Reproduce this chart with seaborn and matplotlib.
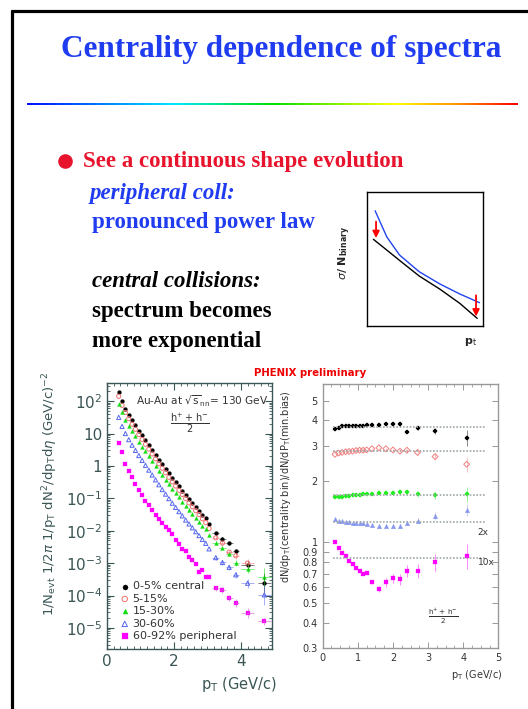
import numpy as np
import matplotlib
matplotlib.use("Agg")
import matplotlib.pyplot as plt
import seaborn as sns
from matplotlib.lines import Line2D
from matplotlib.colors import LinearSegmentedColormap
from matplotlib.ticker import MultipleLocator, LogLocator, NullFormatter

# ---- left panel: invariant yields, log10 values ----
pt_left = [0.35, 0.45, 0.55, 0.65, 0.75, 0.85, 0.95, 1.05, 1.15, 1.25, 1.35, 1.45,
           1.55, 1.65, 1.75, 1.85, 1.95, 2.05, 2.15, 2.25, 2.35, 2.45, 2.55, 2.65,
           2.75, 2.85, 2.95, 3.05, 3.25, 3.45, 3.65, 3.85, 4.2, 4.7]
log_c0_5 = [2.27, 1.99, 1.77, 1.58, 1.41, 1.25, 1.09, 0.94, 0.79, 0.64, 0.49, 0.34,
            0.19, 0.05, -0.09, -0.23, -0.37, -0.50, -0.63, -0.76, -0.89, -1.02, -1.14, -1.26,
            -1.38, -1.50, -1.62, -1.78, -2.08, -2.24, -2.39, -2.64, -3.05, -3.60]
log_c5_15 = [2.15, 1.87, 1.65, 1.46, 1.29, 1.13, 0.97, 0.82, 0.67, 0.52, 0.37, 0.22,
             0.07, -0.07, -0.21, -0.35, -0.49, -0.62, -0.75, -0.88, -1.01, -1.14, -1.26, -1.38,
             -1.50, -1.63, -1.75, -1.93, -2.22, -2.38, -2.66, -2.77, -3.00, np.nan]
log_c15_30 = [1.92, 1.65, 1.43, 1.24, 1.07, 0.91, 0.75, 0.60, 0.45, 0.30, 0.15, 0.00,
              -0.15, -0.29, -0.43, -0.57, -0.71, -0.84, -0.97, -1.10, -1.23, -1.36, -1.48, -1.60,
              -1.72, -1.84, -1.96, -2.13, -2.38, -2.52, -2.72, -3.00, -3.19, -3.44]
log_c30_60 = [1.50, 1.22, 1.00, 0.81, 0.64, 0.48, 0.32, 0.17, 0.02, -0.13, -0.28, -0.43,
              -0.58, -0.73, -0.87, -1.01, -1.15, -1.28, -1.41, -1.54, -1.67, -1.79, -1.91, -2.03,
              -2.15, -2.27, -2.39, -2.56, -2.83, -2.98, -3.13, -3.36, -3.62, -3.98]
log_c60_92 = [0.72, 0.42, 0.05, -0.16, -0.35, -0.55, -0.73, -0.90, -1.07, -1.22, -1.36, -1.50,
              -1.63, -1.76, -1.88, -1.98, -2.10, -2.30, -2.40, -2.57, -2.61, -2.80, -2.90, -3.02,
              -3.28, -3.22, -3.42, -3.44, -3.78, -3.84, -4.08, -4.22, -4.53, -4.80]
# errors on the last six points (x in GeV/c, y in decades)
tail_xerr = [0.1, 0.1, 0.1, 0.1, 0.2, 0.2]
tail_err = {
    "0-5% central": [0.04, 0.05, 0.06, 0.08, 0.12, 0.30],
    "5-15%": [0.05, 0.06, 0.07, 0.09, 0.14, np.nan],
    "15-30%": [0.05, 0.06, 0.07, 0.09, 0.12, 0.30],
    "30-60%": [0.06, 0.07, 0.08, 0.10, 0.14, 0.30],
    "60-92% peripheral": [0.08, 0.09, 0.10, 0.12, 0.15, 0.10],
}

# ---- right panel: ratio to minimum bias ----
pt_ratio = [0.35, 0.45, 0.55, 0.65, 0.75, 0.85, 0.95, 1.05, 1.15, 1.25,
            1.4, 1.6, 1.8, 2.0, 2.2, 2.4, 2.7, 3.2, 4.1]
ratio_c0_5 = [3.63, 3.68, 3.74, 3.76, 3.76, 3.75, 3.75, 3.75, 3.76, 3.78,
              3.78, 3.80, 3.86, 3.82, 3.82, 3.52, 3.67, 3.55, 3.28]
ratio_c5_15 = [2.72, 2.76, 2.78, 2.80, 2.81, 2.82, 2.84, 2.85, 2.85, 2.86,
               2.90, 2.93, 2.90, 2.86, 2.82, 2.85, 2.78, 2.65, 2.43]
ratio_c15_30 = [1.68, 1.68, 1.68, 1.69, 1.70, 1.71, 1.71, 1.72, 1.73, 1.73,
                1.73, 1.75, 1.75, 1.76, 1.78, 1.78, 1.73, 1.71, 1.73]
ratio_c30_60_x2 = [1.30, 1.28, 1.27, 1.26, 1.26, 1.25, 1.25, 1.24, 1.24, 1.23,
                   1.22, 1.20, 1.20, 1.20, 1.21, 1.25, 1.28, 1.35, 1.45]
ratio_c60_92_x10 = [1.00, 0.94, 0.89, 0.86, 0.81, 0.78, 0.75, 0.72, 0.70, 0.705,
                    0.64, 0.59, 0.635, 0.665, 0.657, 0.725, 0.725, 0.80, 0.86]
# y errors for pT >= 1.4 (last nine points)
ratio_err = [
    [0.02, 0.03, 0.04, 0.05, 0.06, 0.07, 0.09, 0.12, 0.30],
    [0.02, 0.02, 0.03, 0.03, 0.04, 0.05, 0.07, 0.10, 0.20],
    [0.01, 0.02, 0.02, 0.03, 0.03, 0.04, 0.05, 0.07, 0.15],
    [0.01, 0.01, 0.01, 0.02, 0.02, 0.03, 0.04, 0.06, 0.10],
    [0.015, 0.02, 0.03, 0.035, 0.04, 0.05, 0.06, 0.08, 0.12],
]
ref_levels = [3.72, 2.83, 1.71, 1.265, 0.84]
ref_span = [0.3, 4.65]

# ---- sketch inset (axes fractions) ----
sketch_x_blue = [0.07, 0.17, 0.28, 0.45, 0.63, 0.80, 0.97]
sketch_y_blue = [0.860, 0.666, 0.530, 0.405, 0.313, 0.239, 0.174]
sketch_x_black = [0.055, 0.17, 0.28, 0.45, 0.63, 0.80, 0.95]
sketch_y_black = [0.647, 0.567, 0.490, 0.373, 0.274, 0.169, 0.057]

labels = ["0-5% central", "5-15%", "15-30%", "30-60%", "60-92% peripheral"]
colors = ["#000000", "#f07070", "#10dd10", "#5566ee", "#ff00ff"]
markers = ["o", "o", "^", "^", "s"]
filled = [True, False, True, False, True]

sns.set_style("ticks")
plt.rcParams["font.family"] = ["DejaVu Sans"]
plt.rcParams["mathtext.fontset"] = "dejavusans"

W, H = 528, 709
fig = plt.figure(figsize=(W / 100, H / 100), dpi=100)


def fx(px):
    return px / W


def fy(py):
    return 1 - py / H


# slide frame
fig.add_artist(Line2D([fx(11.5), fx(11.5)], [0, fy(10.5)], color="black", lw=2.3,
                      transform=fig.transFigure))
fig.add_artist(Line2D([fx(11.5), 1], [fy(10.5), fy(10.5)], color="black", lw=2.3,
                      transform=fig.transFigure))

blue_txt = "#1f3cf0"
red_txt = "#e8142d"
fig.text(fx(281), fy(56.7), "Centrality dependence of spectra", ha="center", va="baseline",
         family="Liberation Serif", weight="bold", size=22.5, color=blue_txt)

# rainbow rule
rain = LinearSegmentedColormap.from_list(
    "rain", [(0, "#0010ff"), (0.3, "#00e8ff"), (0.5, "#00e000"), (0.75, "#ffff00"),
             (0.88, "#ff9000"), (1.0, "#ff0000")])
ax_r = fig.add_axes([fx(27), fy(105.5), fx(491), 3 / H])
ax_r.imshow(np.linspace(0, 1, 256)[None, :], aspect="auto", cmap=rain)
ax_r.axis("off")

# bullet text
fig.add_artist(Line2D([fx(65.3)], [fy(160.7)], marker="o", markersize=9.5, color=red_txt,
                      transform=fig.transFigure))
serif = "Liberation Serif"
fig.text(fx(83), fy(167), "See a continuous shape evolution", family=serif, weight="bold",
         size=16.5, color=red_txt, va="baseline")
fig.text(fx(90), fy(199), "peripheral coll:", family=serif, weight="bold", style="italic",
         size=16.5, color=blue_txt, va="baseline")
fig.text(fx(92), fy(227.5), "pronounced power law", family=serif, weight="bold",
         size=16.5, color=blue_txt, va="baseline")
fig.text(fx(91.5), fy(287.5), "central collisions:", family=serif, weight="bold",
         style="italic", size=16.5, color="black", va="baseline")
fig.text(fx(92), fy(317), "spectrum becomes", family=serif, weight="bold",
         size=16.5, color="black", va="baseline")
fig.text(fx(92), fy(346.5), "more exponential", family=serif, weight="bold",
         size=16.5, color="black", va="baseline")

# sketch inset
ax_in = fig.add_axes([fx(367), fy(326), fx(116), 134 / H])
sns.lineplot(x=sketch_x_blue, y=sketch_y_blue, ax=ax_in, color="#2244ee", lw=1.0)
sns.lineplot(x=sketch_x_black, y=sketch_y_black, ax=ax_in, color="black", lw=1.0)
ax_in.annotate("", xy=(0.078, 0.635), xytext=(0.078, 0.80),
               arrowprops=dict(arrowstyle="-|>", color="red", lw=1.3, mutation_scale=10))
ax_in.annotate("", xy=(0.94, 0.05), xytext=(0.94, 0.25),
               arrowprops=dict(arrowstyle="-|>", color="red", lw=1.3, mutation_scale=10))
ax_in.set_xlim(0, 1)
ax_in.set_ylim(0, 1)
ax_in.set_xticks([])
ax_in.set_yticks([])
for s in ax_in.spines.values():
    s.set_visible(True)
    s.set_linewidth(1.0)
    s.set_color("black")
ax_in.text(-0.19, 0.545, r"$\sigma$/ $\mathbf{N}_{\mathbf{binary}}$", rotation=90,
           transform=ax_in.transAxes, ha="center", va="center", size=8, weight="bold")
ax_in.text(0.89, -0.117, r"p$_{\rm t}$", transform=ax_in.transAxes, ha="center",
           va="center", size=8, weight="bold")

fig.text(fx(310), fy(373.5), "PHENIX preliminary", ha="center", va="center",
         size=7.3, weight="bold", color="#ee0000")

# ---- left panel ----
axis_c = "#3b5555"
ax1 = fig.add_axes([fx(107), fy(649), fx(165), 266 / H])
series_left = [log_c0_5, log_c5_15, log_c15_30, log_c30_60, log_c60_92]
for lab, col, mk, fill, lv in zip(labels, colors, markers, filled, series_left):
    yv = 10 ** np.array(lv)
    err = np.array(tail_err[lab])
    tail_y = yv[-6:]
    lo = tail_y - tail_y * 10 ** (-err)
    hi = tail_y * 10 ** err - tail_y
    ax1.errorbar(pt_left[-6:], tail_y, xerr=tail_xerr, yerr=[lo, hi], fmt="none",
                 ecolor=col if col != "#ff00ff" else "#cc55cc", elinewidth=0.6, alpha=0.6)
    if fill:
        sns.scatterplot(x=pt_left, y=yv, ax=ax1, marker=mk, color=col, s=8,
                        edgecolor=col, linewidth=0.2, label=lab)
    else:
        sns.scatterplot(x=pt_left, y=yv, ax=ax1, marker=mk, color=col, s=9,
                        facecolor="none", edgecolor=col, linewidth=0.7, label=lab)
ax1.set_yscale("log")
ax1.set_xlim(0, 4.93)
ax1.set_ylim(10 ** -5.65, 10 ** 2.56)
ax1.set_xticks([0, 2, 4])
ax1.set_xticklabels(["0", "2", "4"])
ax1.xaxis.set_minor_locator(MultipleLocator(0.2))
dec = [1e-5, 1e-4, 1e-3, 1e-2, 1e-1, 1, 10, 100]
ax1.set_yticks(dec)
ax1.set_yticklabels([r"$10^{-5}$", r"$10^{-4}$", r"$10^{-3}$", r"$10^{-2}$", r"$10^{-1}$",
                     "1", "10", r"$10^{2}$"])
ax1.yaxis.set_minor_locator(LogLocator(base=10, subs=np.arange(2, 10)))
ax1.yaxis.set_minor_formatter(NullFormatter())
ax1.tick_params(which="both", direction="in", top=True, right=True, colors=axis_c,
                labelsize=11, labelcolor=axis_c)
ax1.tick_params(which="major", length=5, width=0.8)
ax1.tick_params(which="minor", length=2.5, width=0.6)
for s in ax1.spines.values():
    s.set_color(axis_c)
    s.set_linewidth(1.0)
ax1.set_ylabel(r"1/N$_{\rm evt}$ 1/2$\pi$ 1/p$_{\rm T}$ dN$^{2}$/dp$_{\rm T}$d$\eta$ (GeV/c)$^{-2}$",
               size=9.5, color=axis_c)
ax1.yaxis.set_label_coords(-0.285, 0.583)
ax1.set_xlabel(r"p$_{\rm T}$ (GeV/c)", size=10.5, color=axis_c)
ax1.xaxis.set_label_coords(0.803, -0.098)
ax1.text(0.58, 0.93, r"Au-Au at $\sqrt{\rm s}_{\rm nn}$= 130 GeV", transform=ax1.transAxes,
         ha="center", va="center", size=7.6, color="#333333")
ax1.text(0.505, 0.85, r"$\frac{\rm h^{+}+\,h^{-}}{2}$", transform=ax1.transAxes,
         ha="center", va="center", size=10, color="#333333")
ax1.legend(loc="lower left", bbox_to_anchor=(0.02, 0.0), frameon=False, fontsize=8,
           handletextpad=0.1, labelspacing=0.22, borderaxespad=0.3, handlelength=1.2,
           labelcolor="#333333", markerscale=1.3)

# ---- right panel ----
ax2 = fig.add_axes([fx(322.7), fy(648.3), fx(175.6), 264.3 / H])
for lvl in ref_levels:
    sns.lineplot(x=ref_span, y=[lvl, lvl], ax=ax2, color="#a0a8a8", lw=1.2,
                 linestyle=(0, (1, 1)))
ratio_series = [ratio_c0_5, ratio_c5_15, ratio_c15_30, ratio_c30_60_x2, ratio_c60_92_x10]
r_markers = ["P", "D", "P", "^", "s"]
r_colors = ["#000000", "#f08080", "#22ee22", "#8898ee", "#ff00ff"]
for vals, mk, col, err, fill in zip(ratio_series, r_markers, r_colors, ratio_err,
                                    [True, False, True, True, True]):
    ax2.errorbar(pt_ratio[-9:], vals[-9:], yerr=err, fmt="none", ecolor=col,
                 elinewidth=0.6, alpha=0.55)
    if fill:
        sns.scatterplot(x=pt_ratio, y=vals, ax=ax2, marker=mk, color=col, s=11,
                        edgecolor=col, linewidth=0.2)
    else:
        sns.scatterplot(x=pt_ratio, y=vals, ax=ax2, marker=mk, color=col, s=9,
                        facecolor="none", edgecolor=col, linewidth=0.7)
ax2.set_yscale("log")
ax2.set_xlim(0, 5)
ax2.set_ylim(0.3, 6.05)
ax2.set_xticks([0, 1, 2, 3, 4, 5])
ax2.xaxis.set_minor_locator(MultipleLocator(0.25))
r_ticks = [0.3, 0.4, 0.5, 0.6, 0.7, 0.8, 0.9, 1, 2, 3, 4, 5]
ax2.set_yticks(r_ticks)
ax2.set_yticklabels(["0.3", "0.4", "0.5", "0.6", "0.7", "0.8", "0.9", "1", "2", "3", "4", "5"])
ax2.yaxis.set_minor_formatter(NullFormatter())
ax2.yaxis.set_minor_locator(LogLocator(base=10, subs=[]))
ax2.tick_params(which="both", direction="in", top=True, right=True, colors="#888888",
                labelsize=7, labelcolor="#333333")
ax2.tick_params(which="major", length=4, width=0.6)
ax2.tick_params(which="minor", length=2, width=0.5)
for s in ax2.spines.values():
    s.set_color("#999999")
    s.set_linewidth(1.0)
ax2.set_ylabel(r"dN/dp$_{\rm T}$(centrality bin)/dN/dP$_{\rm T}$(min.bias)", size=7,
               color="#333333")
ax2.yaxis.set_label_coords(-0.169, 0.61)
ax2.set_xlabel(r"p$_{\rm T}$ (GeV/c)", size=7, color="#333333")
ax2.xaxis.set_label_coords(0.877, -0.073)
ax2.text(4.41, 1.116, "2x", ha="left", va="center", size=6.5, color="#333333")
ax2.text(4.41, 0.80, "10x", ha="left", va="center", size=6.5, color="#333333")
ax2.text(3.44, 0.43, r"$\frac{\rm h^{+}+\,h^{-}}{2}$", ha="center", va="center",
         size=7.5, color="#333333")

fig.savefig("out.png", dpi=100)
